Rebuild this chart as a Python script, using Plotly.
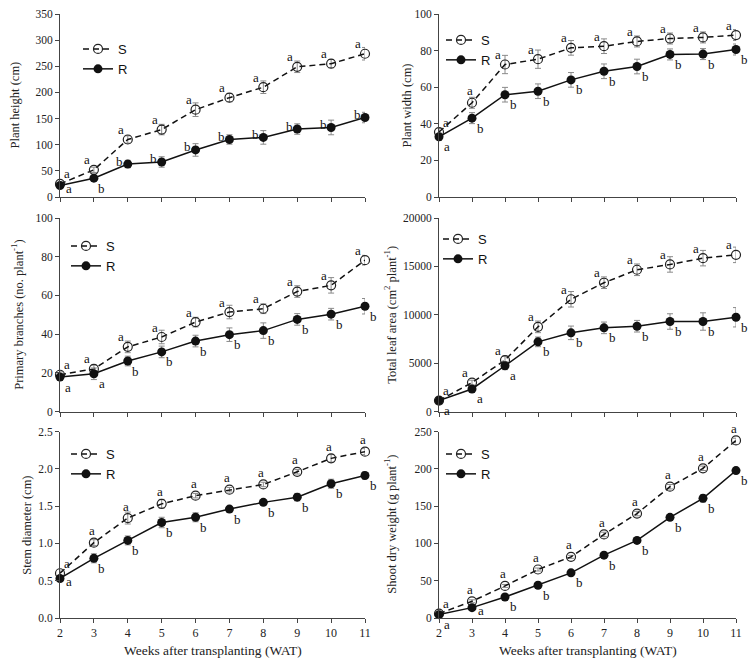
import plotly.graph_objects as go

weeks = [2, 3, 4, 5, 6, 7, 8, 9, 10, 11]

# Panel 1: plant height (cm)
height_S = [25, 52, 110, 129, 167, 190, 210, 249, 255, 274]
height_R = [22, 36, 63, 67, 90, 110, 114, 130, 133, 152]
height_S_err = [4, 5, 7, 10, 13, 8, 12, 11, 8, 12]
height_R_err = [4, 5, 7, 10, 12, 9, 13, 10, 14, 10]
height_S_let = ["a"] * 10
height_R_let = ["a", "b", "b", "b", "b", "b", "b", "b", "b", "b"]

# Panel 2: plant width (cm)
width_S = [35.5, 51.5, 72.4, 75.3, 81.5, 82.4, 85.0, 86.6, 87.2, 88.5]
width_R = [32.9, 43.1, 55.9, 57.8, 64.0, 68.7, 71.3, 77.9, 78.1, 80.6]
width_S_err = [2, 3, 5, 5, 4, 4, 3, 3, 3, 3]
width_R_err = [2, 3, 4, 4, 4, 4, 4, 3, 3, 3]
width_S_let = ["a"] * 10
width_R_let = ["a", "b", "b", "b", "b", "b", "b", "b", "b", "b"]

# Panel 3: primary branches (no. plant-1)
branch_S = [19.0, 22.0, 33.4, 38.5, 46.2, 51.4, 53.1, 62.0, 65.2, 78.2]
branch_R = [17.8, 19.5, 26.1, 30.8, 36.4, 39.7, 41.8, 47.6, 50.3, 54.4]
branch_S_err = [1.5, 2, 3, 3.5, 2.5, 3.5, 2.5, 3, 4, 2.5]
branch_R_err = [1.5, 3, 2.5, 3, 3, 3.5, 4, 3, 3, 4]
branch_S_let = ["a"] * 10
branch_R_let = ["a", "a", "b", "b", "b", "b", "b", "b", "b", "b"]

# Panel 4: total leaf area (cm2 plant-1)
leaf_S = [1130, 2985, 5320, 8750, 11600, 13310, 14650, 15200, 15850, 16190]
leaf_R = [1130, 2330, 4730, 7200, 8130, 8645, 8815, 9300, 9300, 9740]
leaf_S_err = [200, 250, 400, 600, 800, 600, 600, 800, 800, 800]
leaf_R_err = [200, 250, 400, 500, 700, 600, 600, 800, 900, 1000]
leaf_S_let = ["a"] * 10
leaf_R_let = ["a", "a", "a", "b", "b", "b", "b", "b", "b", "b"]

# Panel 5: stem diameter (cm)
stem_S = [0.60, 1.01, 1.34, 1.53, 1.64, 1.72, 1.79, 1.96, 2.14, 2.23]
stem_R = [0.53, 0.80, 1.04, 1.28, 1.35, 1.46, 1.55, 1.62, 1.80, 1.91]
stem_S_err = [0.03, 0.04, 0.08, 0.06, 0.03, 0.03, 0.03, 0.03, 0.05, 0.04]
stem_R_err = [0.03, 0.06, 0.06, 0.07, 0.06, 0.03, 0.03, 0.05, 0.06, 0.05]
stem_S_let = ["a"] * 10
stem_R_let = ["a", "b", "b", "b", "b", "b", "b", "b", "b", "b"]

# Panel 6: shoot dry weight (g plant-1)
shoot_S = [5.8, 22.4, 43, 65, 82, 112, 140, 176, 200.7, 238]
shoot_R = [4.5, 13.9, 28.2, 43.9, 60.5, 84.2, 104, 134.9, 160.4, 197.6]
shoot_S_err = [2, 2, 2, 2, 2, 3, 3, 3, 3, 3]
shoot_R_err = [2, 2, 2, 2, 2, 3, 3, 3, 5, 4]
shoot_S_let = ["a"] * 10
shoot_R_let = ["a", "a", "b", "b", "b", "b", "b", "b", "b", "b"]

y_titles = [
    "Plant height (cm)",
    "Plant width (cm)",
    "Primary branches (no. plant<sup>-1</sup>)",
    "Total leaf area (cm<sup>2</sup> plant<sup>-1</sup>)",
    "Stem diameter (cm)",
    "Shoot dry weight (g plant<sup>-1</sup>)",
]
x_title = "Weeks after transplanting (WAT)"
y_ranges = [(0, 350, 50), (0, 100, 20), (0, 100, 20), (0, 20000, 5000), (0, 2.5, 0.5), (0, 250, 50)]
y_formats = ["d", "d", "d", "d", ".1f", "d"]

panels = [
    (height_S, height_R, height_S_err, height_R_err, height_S_let, height_R_let),
    (width_S, width_R, width_S_err, width_R_err, width_S_let, width_R_let),
    (branch_S, branch_R, branch_S_err, branch_R_err, branch_S_let, branch_R_let),
    (leaf_S, leaf_R, leaf_S_err, leaf_R_err, leaf_S_let, leaf_R_let),
    (stem_S, stem_R, stem_S_err, stem_R_err, stem_S_let, stem_R_let),
    (shoot_S, shoot_R, shoot_S_err, shoot_R_err, shoot_S_let, shoot_R_let),
]

# ---- style: letter placement codes per panel ----
OFFS = {"ul": (-7, 10), "ur": (7, 10), "u": (-2, 12), "lr": (8, -10), "r": (9, -3), "l": (-8, 3)}
S_pos = [
    ["ur"] + ["ul"] * 9,
    ["ur", "u"] + ["ul"] * 8,
    ["ur"] + ["ul"] * 9,
    ["ur"] + ["ul"] * 9,
    ["ur"] + ["u"] * 9,
    ["ur"] + ["u"] * 9,
]
R_pos = [
    ["r", "lr"] + ["l"] * 8,
    ["lr"] * 10,
    ["lr"] * 10,
    ["lr"] * 10,
    ["r"] + ["lr"] * 9,
    ["lr", "r"] + ["lr"] * 8,
]

W, H = 750, 664
x_dom = [(60 / W, 365 / W), (439 / W, 736 / W)]
y_dom_px = [(14, 197), (218, 411.5), (431.5, 618)]
y_dom = [(1 - b / H, 1 - t / H) for t, b in y_dom_px]
legend_pos = [(78, 34), (441, 25), (66, 231), (438, 224), (66, 439), (441, 439)]
ytitle_x = [15, 407, 17, 390, 27, 390]

serif = "Liberation Serif"
fig = go.Figure()
annotations = []
layout = {}
for i, (sv, rv, se, re_, sl, rl) in enumerate(panels):
    k = i + 1
    r, c = divmod(i, 2)
    xa = "x" if k == 1 else f"x{k}"
    ya = "y" if k == 1 else f"y{k}"
    lg = "legend" if k == 1 else f"legend{k}"
    fig.add_trace(go.Scatter(
        x=weeks, y=sv, name="S", mode="lines+markers", xaxis=xa, yaxis=ya, legend=lg,
        line=dict(color="#111", width=1.5, dash="6px,4px"),
        marker=dict(symbol="circle-open", size=9, color="#222", line=dict(width=1.2)),
        error_y=dict(type="data", array=se, color="#8a8a8a", thickness=1, width=3),
        cliponaxis=False,
    ))
    fig.add_trace(go.Scatter(
        x=weeks, y=rv, name="R", mode="lines+markers", xaxis=xa, yaxis=ya, legend=lg,
        line=dict(color="#111", width=1.5),
        marker=dict(symbol="circle", size=9, color="#111"),
        error_y=dict(type="data", array=re_, color="#8a8a8a", thickness=1, width=3),
        cliponaxis=False,
    ))
    for w, v, t, p in zip(weeks, sv, sl, S_pos[i]):
        dx, dy = OFFS[p]
        annotations.append(dict(x=w, y=v, xref=xa, yref=ya, text=t, showarrow=False,
                                xanchor="center", yanchor="middle",
                                xshift=dx, yshift=dy, font=dict(family=serif, size=13, color="#111")))
    for w, v, t, p in zip(weeks, rv, rl, R_pos[i]):
        dx, dy = OFFS[p]
        annotations.append(dict(x=w, y=v, xref=xa, yref=ya, text=t, showarrow=False,
                                xanchor="center", yanchor="middle",
                                xshift=dx, yshift=dy, font=dict(family=serif, size=13, color="#111")))
    y0, y1, dt = y_ranges[i]
    layout["xaxis" if k == 1 else f"xaxis{k}"] = dict(
        domain=list(x_dom[c]), anchor=ya, range=[2, 11], tickmode="array", tickvals=weeks,
        showticklabels=(r == 2), ticks="outside", ticklen=4, tickcolor="#444",
        showline=True, linecolor="#444", linewidth=1, showgrid=False, zeroline=False,
        tickfont=dict(family=serif, size=12, color="#222"), fixedrange=True, automargin=False,
    )
    layout["yaxis" if k == 1 else f"yaxis{k}"] = dict(
        domain=list(y_dom[r]), anchor=xa, range=[y0, y1], dtick=dt, tick0=0,
        tickformat=y_formats[i], ticks="outside", ticklen=4, tickcolor="#444",
        showline=True, linecolor="#444", linewidth=1, showgrid=False, zeroline=False,
        tickfont=dict(family=serif, size=11.5, color="#222"), automargin=False, fixedrange=True,
    )
    lx, ly = legend_pos[i]
    layout[lg] = dict(x=lx / W, y=1 - ly / H, xanchor="left", yanchor="top",
                      bgcolor="rgba(0,0,0,0)", tracegroupgap=0,
                      font=dict(family="Liberation Sans", size=13, color="#111"))
    ymid = (y_dom_px[r][0] + y_dom_px[r][1]) / 2
    annotations.append(dict(x=ytitle_x[i] / W, y=1 - ymid / H, xref="paper", yref="paper",
                            xanchor="center", yanchor="middle",
                            text=y_titles[i], textangle=-90, showarrow=False,
                            font=dict(family=serif, size=12.5, color="#222")))
    if r == 2:
        annotations.append(dict(x=(x_dom[c][0] + x_dom[c][1]) / 2, y=1 - 650 / H,
                                xref="paper", yref="paper", xanchor="center", yanchor="middle",
                                text=x_title, showarrow=False,
                                font=dict(family=serif, size=13.5, color="#222")))

fig.update_layout(
    width=W, height=H, margin=dict(l=0, r=0, t=0, b=0, autoexpand=False),
    plot_bgcolor="white", paper_bgcolor="white",
    annotations=annotations, **layout,
)
fig.write_html("out.html", config={"displayModeBar": False},
               post_script="document.body.style.margin='0';document.body.style.overflow='hidden';")
